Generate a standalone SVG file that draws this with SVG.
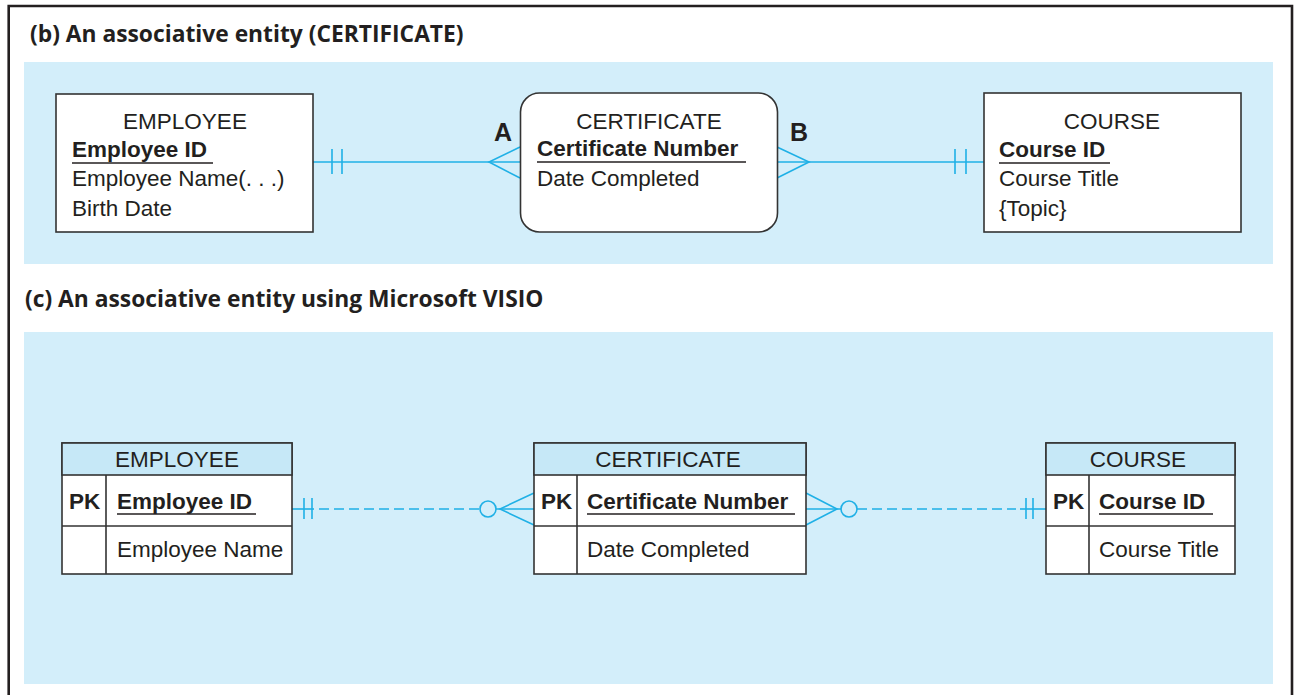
<svg xmlns="http://www.w3.org/2000/svg" width="1294" height="695" viewBox="0 0 1294 695">
<style>
.t{font-family:"Liberation Sans",Arial,sans-serif;font-size:22.5px;fill:#231f20}
.b{font-weight:bold}
.m{text-anchor:middle}
.h{font-family:"Open Sans","Noto Sans",sans-serif;font-weight:bold;font-size:22.8px;fill:#231f20}
.box{fill:#fff;stroke:#333;stroke-width:1.6}
.hdr{fill:#c6e8f7;stroke:#333;stroke-width:1.6}
.ln{stroke:#333;stroke-width:1.6;fill:none}
.ul{stroke:#231f20;stroke-width:1.5}
.c{stroke:#1fb0e6;stroke-width:1.6;fill:none}
.d{stroke-dasharray:10 5}
.lbl{font-family:"Liberation Sans",Arial,sans-serif;font-weight:bold;font-size:25px;fill:#231f20}
</style>
<rect width="1294" height="695" fill="#fff"/>
<path d="M8.7,695 V6 H1292 V695" fill="none" stroke="#231f20" stroke-width="2.6"/>
<text class="h" x="30" y="42">(b) An associative entity (CERTIFICATE)</text>
<rect x="24" y="62" width="1249" height="202" fill="#d3eefa"/>
<text class="h" x="25" y="307">(c) An associative entity using Microsoft VISIO</text>
<rect x="24" y="332" width="1249" height="352" fill="#d3eefa"/>

<g id="connectors">
  <g id="emp-cert-b">
    <line class="c" x1="313" y1="162" x2="520" y2="162"/>
    <line class="c" x1="332" y1="149" x2="332" y2="174"/>
    <line class="c" x1="342" y1="149" x2="342" y2="174"/>
    <polyline class="c" points="520,147 489,162 520,178"/>
  </g>
  <g id="cert-course-b">
    <line class="c" x1="777" y1="162" x2="984" y2="162"/>
    <polyline class="c" points="777,147 809,162 777,178"/>
    <line class="c" x1="955" y1="149" x2="955" y2="174"/>
    <line class="c" x1="966" y1="149" x2="966" y2="174"/>
  </g>
  <g id="emp-cert-c">
    <line class="c" x1="292" y1="509" x2="314" y2="509"/>
    <line class="c" x1="304" y1="498" x2="304" y2="519"/>
    <line class="c" x1="312" y1="498" x2="312" y2="519"/>
    <line class="c d" x1="319" y1="509" x2="480" y2="509"/>
    <circle class="c" cx="488" cy="509" r="8"/>
    <line class="c" x1="496" y1="509" x2="534" y2="509"/>
    <polyline class="c" points="534,493 500,509 534,525"/>
  </g>
  <g id="cert-course-c">
    <polyline class="c" points="806,493 837,509 806,525"/>
    <line class="c" x1="806" y1="509" x2="841" y2="509"/>
    <circle class="c" cx="849" cy="509" r="8"/>
    <line class="c d" x1="857" y1="509" x2="1016" y2="509"/>
    <line class="c" x1="1020" y1="509" x2="1046" y2="509"/>
    <line class="c" x1="1026" y1="498" x2="1026" y2="519"/>
    <line class="c" x1="1033" y1="498" x2="1033" y2="519"/>
  </g>
  <text class="lbl" x="494" y="141">A</text>
  <text class="lbl" x="790" y="141">B</text>
</g>

<g id="employee-b">
  <rect class="box" x="56" y="94" width="257" height="138"/>
  <text class="t m" x="185" y="129">EMPLOYEE</text>
  <text class="t b" x="72" y="157">Employee ID</text>
  <line class="ul" x1="72" y1="163" x2="213" y2="163"/>
  <text class="t" x="72" y="186">Employee Name(. . .)</text>
  <text class="t" x="72" y="216">Birth Date</text>
</g>
<g id="certificate-b">
  <rect class="box" x="520.5" y="93" width="257" height="139" rx="19"/>
  <text class="t m" x="649" y="129">CERTIFICATE</text>
  <text class="t b" x="537" y="156">Certificate Number</text>
  <line class="ul" x1="537" y1="162" x2="746" y2="162"/>
  <text class="t" x="537" y="186">Date Completed</text>
</g>
<g id="course-b">
  <rect class="box" x="984" y="93" width="257" height="139"/>
  <text class="t m" x="1112" y="129">COURSE</text>
  <text class="t b" x="999" y="157">Course ID</text>
  <line class="ul" x1="999" y1="163" x2="1110" y2="163"/>
  <text class="t" x="999" y="186">Course Title</text>
  <text class="t" x="999" y="216">{Topic}</text>
</g>

<g id="employee-c">
  <rect class="box" x="62" y="443" width="230" height="131"/>
  <rect class="hdr" x="62" y="443" width="230" height="32"/>
  <line class="ln" x1="62" y1="526" x2="292" y2="526"/>
  <line class="ln" x1="106" y1="475" x2="106" y2="574"/>
  <text class="t m" x="177" y="467">EMPLOYEE</text>
  <text class="t b" x="69" y="509">PK</text>
  <text class="t b" x="117" y="509">Employee ID</text>
  <line class="ul" x1="117" y1="514" x2="256" y2="514"/>
  <text class="t" x="117" y="557">Employee Name</text>
</g>
<g id="certificate-c">
  <rect class="box" x="534" y="443" width="272" height="131"/>
  <rect class="hdr" x="534" y="443" width="272" height="32"/>
  <line class="ln" x1="534" y1="526" x2="806" y2="526"/>
  <line class="ln" x1="577" y1="475" x2="577" y2="574"/>
  <text class="t m" x="668" y="467">CERTIFICATE</text>
  <text class="t b" x="541" y="509">PK</text>
  <text class="t b" x="587" y="509">Certificate Number</text>
  <line class="ul" x1="587" y1="514" x2="795" y2="514"/>
  <text class="t" x="587" y="557">Date Completed</text>
</g>
<g id="course-c">
  <rect class="box" x="1046" y="443" width="189" height="131"/>
  <rect class="hdr" x="1046" y="443" width="189" height="32"/>
  <line class="ln" x1="1046" y1="526" x2="1235" y2="526"/>
  <line class="ln" x1="1089" y1="475" x2="1089" y2="574"/>
  <text class="t m" x="1138" y="467">COURSE</text>
  <text class="t b" x="1053" y="509">PK</text>
  <text class="t b" x="1099" y="509">Course ID</text>
  <line class="ul" x1="1099" y1="514" x2="1213" y2="514"/>
  <text class="t" x="1099" y="557">Course Title</text>
</g>
</svg>
